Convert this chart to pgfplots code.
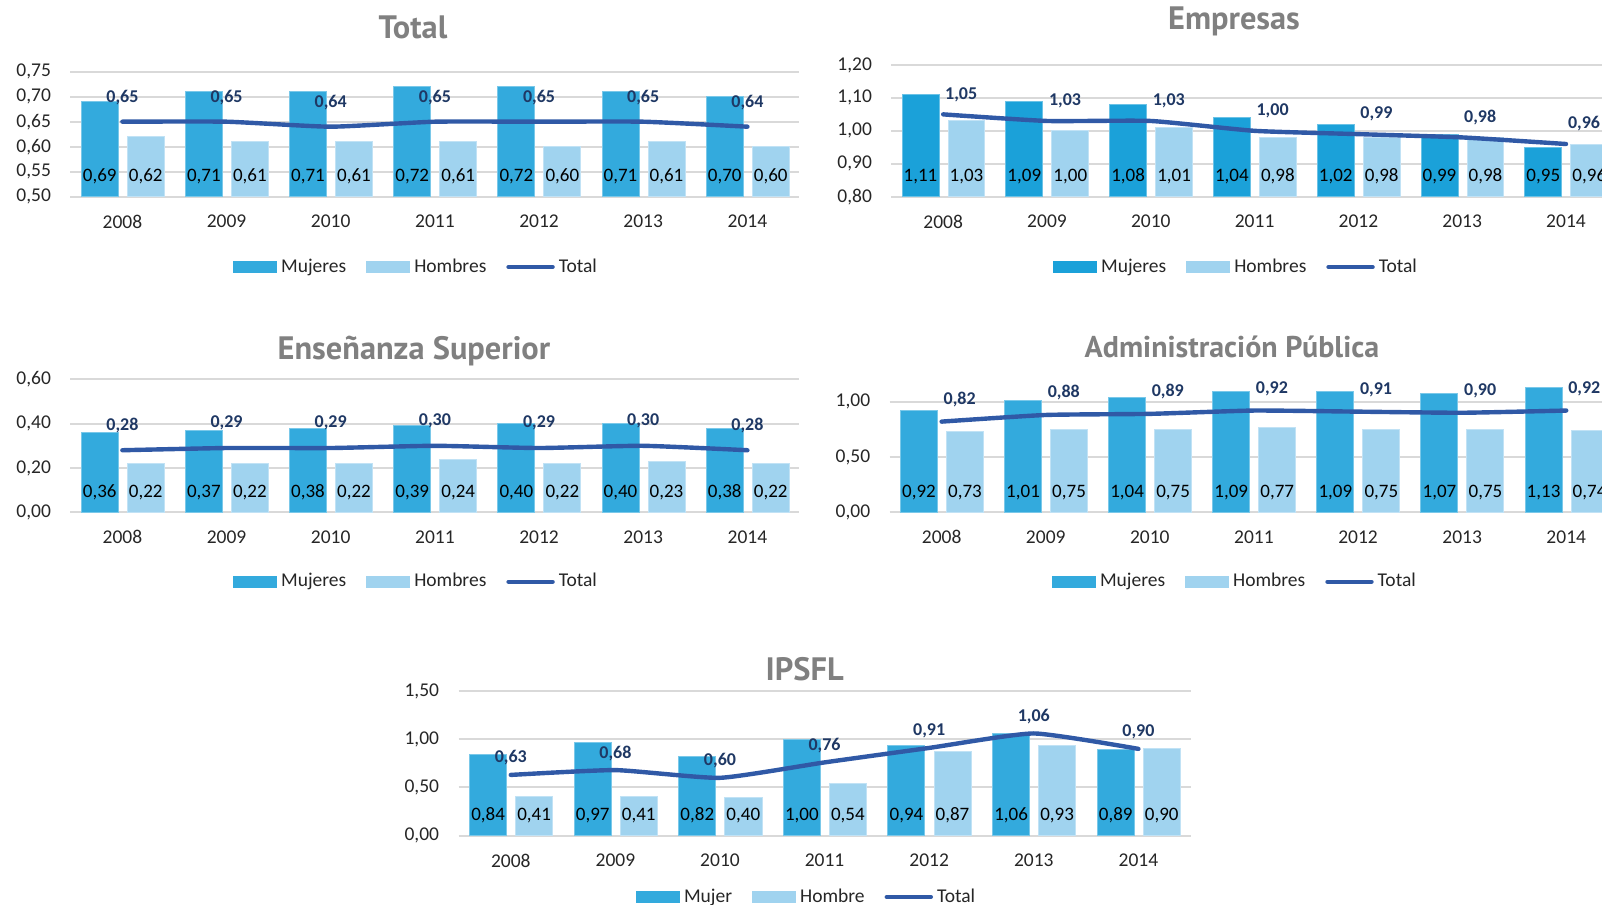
\documentclass[border=0pt]{standalone}
\usepackage{pgfplots}
\pgfplotsset{compat=1.18}
\usepackage{fontspec}
\setmainfont{Carlito}
\newfontfamily\titlefont{PT Sans Bold}
\definecolor{cM}{HTML}{33AADD}
\definecolor{cMe}{HTML}{1BA1D9}
\definecolor{cH}{HTML}{A0D3EF}
\definecolor{cT}{HTML}{3059A6}
\definecolor{cLab}{HTML}{1F3864}
\definecolor{cGrid}{HTML}{D9D9D9}
\definecolor{cTitle}{HTML}{808080}
\pgfplotsset{
 every axis title/.style={anchor=center, font=\fontsize{16.2}{19}\selectfont\titlefont, text=cTitle},
 base/.style={
  scale only axis, anchor=south west,
  xmin=-0.5, xmax=6.5,
  xtick={0,...,6},
  xticklabels={2008,2009,2010,2011,2012,2013,2014},
  axis line style={draw=none},
  major tick length=0pt,
  ymajorgrids,
  grid style={cGrid, line width=1pt},
  tick label style={font=\fontsize{9.75}{11}\selectfont, text=black!85},
  xticklabel style={anchor=center, yshift=-12.5pt},
  yticklabel style={anchor=east, inner sep=0pt, xshift=-9.5pt},
  /pgf/number format/fixed, /pgf/number format/fixed zerofill,
  /pgf/number format/precision=2, /pgf/number format/use comma,
  /pgf/number format/assume math mode=true,
  legend columns=3,
  legend style={draw=none, fill=none, anchor=center,
    font=\fontsize{9.75}{11}\selectfont, text=black!85,
    /tikz/every even column/.append style={column sep=8pt}},
 },
 barM/.style={ybar, bar width=0.355, bar shift=-0.218, fill=#1, draw=#1!65!white, line width=0.5pt,
   every node near coord/.append style={xshift=-11.35pt},
   legend image code/.code={\fill[#1] (0pt,-2.75pt) rectangle (21.5pt,2.75pt);}},
 barM/.default=cM,
 barH/.style={ybar, bar width=0.355, bar shift=0.224, fill=cH, draw=cH!65!white, line width=0.5pt,
   every node near coord/.append style={xshift=11.65pt},
   legend image code/.code={\fill[cH] (0pt,-2.75pt) rectangle (21.5pt,2.75pt);}},
 barlabels/.style 2 args={nodes near coords, visualization depends on={rawy \as \ry},
   every node near coord/.append style={anchor=center, yshift={(-(\ry-#1)*#2+10)*1pt},
   font=\fontsize{9.5}{11}\selectfont, text=black}},
 totline/.style={cT, line width=2.2pt, line cap=round, line join=round, mark=none, smooth, tension=0.3,
   legend image code/.code={\draw[cT, line width=2.2pt, line cap=round] (0pt,0pt) -- (22pt,0pt);}},
 totlab/.style 2 args={nodes near coords, every node near coord/.append style={anchor=center,
   xshift=#1, yshift=#2, font=\fontsize{9}{11}\selectfont\bfseries, text=cLab}},
}
\begin{document}
\begin{tikzpicture}
% Total
\begin{axis}[base, at={(35.15pt,354.15pt)}, width=364.6pt, height=62.5pt,
  ymin=0.5, ymax=0.75, ytick={0.5,0.55,0.6,0.65,0.7,0.75},
  title={Total}, title style={at={(0.47,1.358)}},
  legend style={at={(0.4755,-0.5624)}}]
\addplot[barM, barlabels={0.5}{250}] coordinates {(0,0.69) (1,0.71) (2,0.71) (3,0.72) (4,0.72) (5,0.71) (6,0.70)};
\addplot[barH, barlabels={0.5}{250}] coordinates {(0,0.62) (1,0.61) (2,0.61) (3,0.61) (4,0.60) (5,0.61) (6,0.60)};
\addplot[totline, totlab={0pt}{12pt}] coordinates {(0,0.65) (1,0.65) (2,0.64) (3,0.65) (4,0.65) (5,0.65) (6,0.64)};
\legend{Mujeres,Hombres,Total}
\end{axis}
% Empresas
\begin{axis}[base, at={(445.65pt,354.15pt)}, width=363.3pt, height=65.85pt,
  ymin=0.8, ymax=1.2, ytick={0.8,0.9,1.0,1.1,1.2},
  title={Empresas}, title style={at={(0.4717,1.329)}},
  legend style={at={(0.4758,-0.534)}}]
\addplot[barM=cMe, barlabels={0.8}{164.6}] coordinates {(0,1.11) (1,1.09) (2,1.08) (3,1.04) (4,1.02) (5,0.99) (6,0.95)};
\addplot[barH, barlabels={0.8}{164.6}] coordinates {(0,1.03) (1,1.00) (2,1.01) (3,0.98) (4,0.98) (5,0.98) (6,0.96)};
\addplot[totline, totlab={9pt}{10pt}] coordinates {(0,1.05) (1,1.03) (2,1.03) (3,1.00) (4,0.99) (5,0.98) (6,0.96)};
\legend{Mujeres,Hombres,Total}
\end{axis}
% Ensenanza Superior
\begin{axis}[base, at={(35.15pt,196.35pt)}, width=364.6pt, height=66.5pt,
  ymin=0, ymax=0.6, ytick={0,0.2,0.4,0.6},
  title={Enseñanza Superior}, title style={at={(0.4713,1.215)}},
  legend style={at={(0.4755,-0.522)}}]
\addplot[barM, barlabels={0}{110.83}] coordinates {(0,0.36) (1,0.37) (2,0.38) (3,0.39) (4,0.40) (5,0.40) (6,0.38)};
\addplot[barH, barlabels={0}{110.83}] coordinates {(0,0.22) (1,0.22) (2,0.22) (3,0.24) (4,0.22) (5,0.23) (6,0.22)};
\addplot[totline, totlab={0pt}{12.5pt}] coordinates {(0,0.28) (1,0.29) (2,0.29) (3,0.30) (4,0.29) (5,0.30) (6,0.28)};
\legend{Mujeres,Hombres,Total}
\end{axis}
% Administracion Publica
\begin{axis}[base, at={(444.8pt,196.35pt)}, width=364.35pt, height=66.36pt,
  ymin=0, ymax=1.2, ytick={0,0.5,1},
  title={Administración Pública}, title style={at={(0.4698,1.243)}, font=\fontsize{15}{18}\selectfont\titlefont},
  legend style={at={(0.4753,-0.523)}}]
\addplot[barM, barlabels={0}{55.3}] coordinates {(0,0.92) (1,1.01) (2,1.04) (3,1.09) (4,1.09) (5,1.07) (6,1.13)};
\addplot[barH, barlabels={0}{55.3}] coordinates {(0,0.73) (1,0.75) (2,0.75) (3,0.77) (4,0.75) (5,0.75) (6,0.74)};
\addplot[totline, totlab={9pt}{11pt}] coordinates {(0,0.82) (1,0.88) (2,0.89) (3,0.92) (4,0.91) (5,0.90) (6,0.92)};
\legend{Mujeres,Hombres,Total}
\end{axis}
% IPSFL
\begin{axis}[base, at={(229.25pt,34.65pt)}, width=366.1pt, height=72.35pt,
  ymin=0, ymax=1.5, ytick={0,0.5,1,1.5},
  title={IPSFL}, title style={at={(0.4728,1.152)}},
  legend style={at={(0.4768,-0.4236)}}]
\addplot[barM, barlabels={0}{48.23}] coordinates {(0,0.84) (1,0.97) (2,0.82) (3,1.00) (4,0.94) (5,1.06) (6,0.89)};
\addplot[barH, barlabels={0}{48.23}] coordinates {(0,0.41) (1,0.41) (2,0.40) (3,0.54) (4,0.87) (5,0.93) (6,0.90)};
\addplot[totline, totlab={0pt}{8.5pt}] coordinates {(0,0.63) (1,0.68) (2,0.60) (3,0.76) (4,0.91) (5,1.06) (6,0.90)};
\legend{Mujer,Hombre,Total}
\end{axis}
\pgfresetboundingbox
\path[use as bounding box] (0pt,0pt) rectangle (801pt,452.5pt);
\end{tikzpicture}
\end{document}
